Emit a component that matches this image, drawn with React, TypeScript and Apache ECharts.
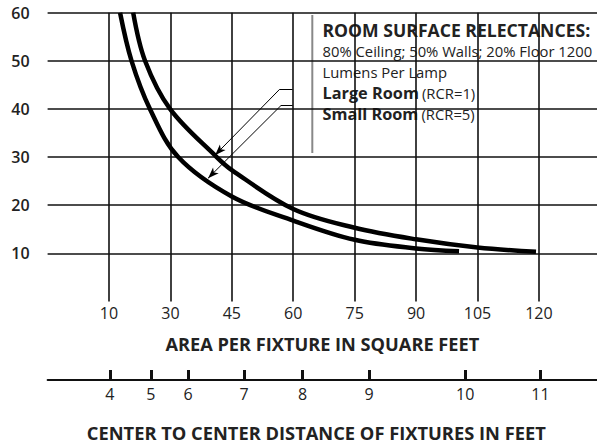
import React, { useEffect, useRef } from "react";
import * as echarts from "echarts";

// Large room (RCR=1): area per fixture (sq ft) vs footcandles
const largeRoomArea = [20.9, 23.8, 29.9, 41.3, 45, 60, 75, 90, 105, 119.3];
const largeRoomFc = [60, 50, 40, 30, 27.3, 19.2, 15.3, 12.9, 11.2, 10.3];
// Small room (RCR=5)
const smallRoomArea = [17.7, 20.5, 25.0, 31.9, 45, 60, 75, 90, 100.5];
const smallRoomFc = [60, 50, 40, 30, 21.8, 16.8, 12.8, 11.0, 10.4];

// Area axis ticks (first gridline is labelled "10" in the original)
const areaTickValues = [15, 30, 45, 60, 75, 90, 105, 120];
const areaTickLabels = ["10", "30", "45", "60", "75", "90", "105", "120"];
// Center-to-center distance scale, positioned on the area scale
const distanceLabels = ["4", "5", "6", "7", "8", "9", "10", "11"];
const distanceTickAreas = [15.2, 25.2, 34.3, 48.0, 62.3, 78.5, 102.0, 120.4];

// Footcandle ticks
const fcTickLabels = ["10", "20", "30", "40", "50", "60"];

// Leader arrows (data coordinates): [elbow, shelf end, arrow tip]
const largeArrow = { elbow: [56.7, 44.1], shelf: [59.85, 44.1], tip: [40.9, 30.4] };
const smallArrow = { elbow: [57.0, 40.7], shelf: [59.85, 40.7], tip: [39.2, 25.6] };

const FONT = "'Open Sans', Lato, sans-serif";

export default function App() {
  const ref = useRef<HTMLDivElement>(null);
  useEffect(() => {
    if (!ref.current) return;
    const chart = echarts.init(ref.current, undefined, { renderer: "svg" });
    const xMax = 134.2;
    const pair = (a: number[], b: number[]) => a.map((v, i) => [v, b[i]]);
    const arrowLines = (a: any) => [
      [
        { coord: a.elbow, symbol: "none" },
        { coord: a.tip, symbol: "arrow", symbolSize: [6, 11] },
      ],
      [
        { coord: a.elbow, symbol: "none" },
        { coord: a.shelf, symbol: "none" },
      ],
    ];
    chart.setOption({
      animation: false,
      backgroundColor: "#fff",
      textStyle: { fontFamily: FONT },
      grid: [
        { left: 47.6, right: 0, top: 12.7, bottom: 142.6 },
        { left: 47.6, right: 0, top: 370, height: 10 },
      ],
      xAxis: [
        {
          type: "value",
          gridIndex: 0,
          min: 0,
          max: xMax,
          interval: 15,
          axisLine: { show: false },
          axisTick: { show: false },
          axisLabel: {
            customValues: areaTickValues,
            formatter: (v: number) => areaTickLabels[areaTickValues.indexOf(v)] ?? "",
            color: "#222",
            fontSize: 16,
            fontFamily: FONT,
            margin: 4,
          },
          splitLine: {
            show: true,
            showMinLine: false,
            showMaxLine: false,
            lineStyle: { color: "#111", width: 1.6 },
          },
          name: "AREA PER FIXTURE IN SQUARE FEET",
          nameLocation: "middle",
          nameGap: 34,
          nameTextStyle: { fontSize: 18.2, fontWeight: "bold", color: "#222", fontFamily: FONT },
        },
        {
          type: "value",
          gridIndex: 1,
          min: 0,
          max: xMax,
          position: "bottom",
          axisLine: { show: true, lineStyle: { color: "#111", width: 2 } },
          axisTick: {
            show: true,
            inside: true,
            length: 10,
            customValues: distanceTickAreas,
            lineStyle: { color: "#111", width: 3 },
          },
          axisLabel: {
            customValues: distanceTickAreas,
            formatter: (v: number) => distanceLabels[distanceTickAreas.indexOf(v)] ?? "",
            color: "#222",
            fontSize: 16,
            fontFamily: FONT,
            margin: 6,
          },
          splitLine: { show: false },
          name: "CENTER TO CENTER DISTANCE OF FIXTURES IN FEET",
          nameLocation: "middle",
          nameGap: 43,
          nameTextStyle: {
            fontSize: 18.3,
            fontWeight: "bold",
            color: "#222",
            fontFamily: FONT,
            padding: [0, 12, 0, 0],
          },
        },
      ],
      yAxis: [
        {
          type: "value",
          gridIndex: 0,
          min: 0,
          max: 60,
          interval: 10,
          axisLine: { show: false },
          axisTick: { show: false },
          axisLabel: {
            formatter: (v: number) => (fcTickLabels.includes(String(v)) ? String(v) : ""),
            color: "#222",
            fontSize: 16,
            fontWeight: 600,
            fontFamily: FONT,
            margin: 18,
          },
          splitLine: {
            show: true,
            showMinLine: false,
            lineStyle: { color: "#111", width: 1.6 },
          },
        },
        { type: "value", gridIndex: 1, show: false, min: 0, max: 1 },
      ],
      series: [
        {
          type: "line",
          name: "Large Room (RCR=1)",
          xAxisIndex: 0,
          yAxisIndex: 0,
          data: pair(largeRoomArea, largeRoomFc),
          smooth: 0.35,
          showSymbol: false,
          lineStyle: { color: "#000", width: 4.5 },
          silent: true,
          markLine: {
            silent: true,
            animation: false,
            label: { show: false },
            lineStyle: { color: "#000", width: 1, type: "solid" },
            data: [...arrowLines(largeArrow), ...arrowLines(smallArrow)],
          },
        },
        {
          type: "line",
          name: "Small Room (RCR=5)",
          xAxisIndex: 0,
          yAxisIndex: 0,
          data: pair(smallRoomArea, smallRoomFc),
          smooth: 0.35,
          showSymbol: false,
          lineStyle: { color: "#000", width: 4.5 },
          silent: true,
        },
      ],
      graphic: [
        {
          type: "line",
          shape: { x1: 312.3, y1: 15, x2: 312.3, y2: 153 },
          style: { stroke: "#888", lineWidth: 2 },
        },
        {
          type: "text",
          left: 322.5,
          top: 20.5,
          style: {
            text:
              "{h|ROOM SURFACE RELECTANCES:}\n{r|80% Ceiling; 50% Walls; 20% Floor 1200}\n{r|Lumens Per Lamp}\n{b|Large Room} {r|(RCR=1)}\n{b|Small Room} {r|(RCR=5)}",
            fontFamily: FONT,
            rich: {
              h: { fontSize: 17.6, fontWeight: "bold", fill: "#222", lineHeight: 21, fontFamily: FONT },
              r: { fontSize: 14.8, fill: "#222", lineHeight: 21, fontFamily: FONT },
              b: { fontSize: 16.3, fontWeight: "bold", fill: "#222", lineHeight: 21, fontFamily: FONT },
            },
          },
        },
      ],
    });
    return () => chart.dispose();
  }, []);
  return (
    <div
      ref={ref}
      style={{ position: "absolute", left: 0, top: 0, width: 597, height: 444 }}
    />
  );
}
